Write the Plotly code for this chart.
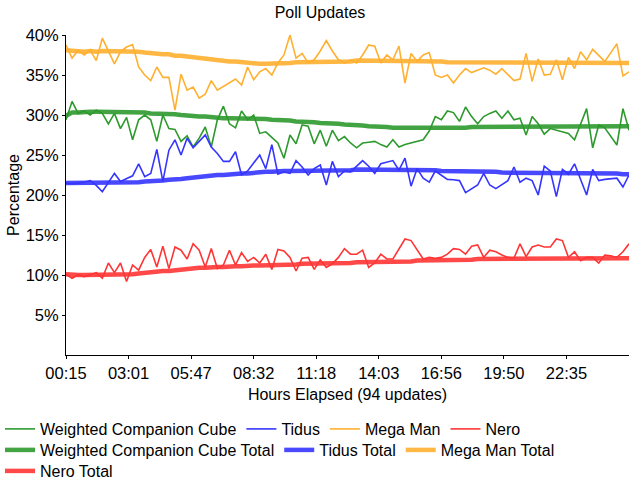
import plotly.graph_objects as go

FONT = "Liberation Sans, Arial, sans-serif"

tick_labels = ["00:15", "03:01", "05:47", "08:32", "11:18", "14:03", "16:56", "19:50", "22:35"]
n_updates = 94

cube = [29.4, 31.7, 30.2, 30.5, 30.0, 30.6, 30.2, 28.9, 30.2, 28.3,
        29.7, 26.9, 29.4, 30.0, 29.4, 26.7, 30.0, 28.3, 28.2, 26.7,
        27.4, 26.0, 27.1, 28.5, 26.0, 29.4, 31.1, 28.9, 28.4, 30.5,
        29.4, 30.0, 27.7, 27.9, 27.2, 26.5, 24.6, 27.5, 26.4, 28.75,
        28.6, 26.4, 28.1, 26.1, 28.1, 26.8, 27.3, 26.5, 25.9, 26.5,
        26.6, 26.7, 26.3, 26.0, 26.9, 26.0, 26.3, 26.5, 26.7, 26.9,
        28.0, 29.8, 29.4, 30.5, 30.3, 29.2, 31.0, 29.8, 28.9, 29.8,
        30.2, 30.5, 29.6, 30.5, 29.4, 29.6, 27.5, 29.8, 28.9, 27.6,
        28.3, 28.1, 27.9, 27.7, 26.9, 28.8, 30.8, 25.9, 28.75, 28.4,
        27.3, 26.25, 30.8, 28.1]
tidus = [21.5, 21.4, 21.5, 21.6, 21.8, 21.2, 20.4, 21.5, 22.7, 21.7,
         22.0, 22.4, 23.9, 22.3, 22.7, 25.7, 21.7, 25.6, 26.9, 25.0,
         27.1, 25.9, 26.7, 27.5, 26.0, 25.2, 24.2, 24.2, 25.4, 22.5,
         23.0, 24.0, 25.0, 23.3, 26.3, 22.6, 22.9, 22.7, 24.3, 23.5,
         22.5, 23.3, 23.75, 21.25, 24.2, 22.3, 23.0, 22.9, 23.6, 24.3,
         23.6, 22.7, 23.9, 24.1, 24.3, 23.1, 24.6, 21.1, 23.3, 22.1,
         21.6, 23.0, 22.5, 21.95, 21.9, 21.8, 20.3, 20.8, 21.25, 22.7,
         21.25, 20.8, 21.25, 21.8, 23.5, 21.6, 22.1, 21.8, 20.0, 23.6,
         23.0, 19.8, 23.2, 22.6, 23.9, 21.9, 20.0, 23.2, 21.8, 21.95,
         22.0, 22.1, 21.0, 22.5]
megaman = [38.75, 37.1, 38.1, 37.5, 38.1, 36.8, 39.6, 37.9, 36.4, 37.9,
           38.5, 38.8, 36.0, 35.0, 34.3, 36.0, 34.7, 34.7, 30.6, 35.1,
           33.1, 33.5, 32.1, 32.6, 34.3, 33.1, 33.6, 34.0, 34.5, 33.75,
           36.0, 34.4, 35.4, 35.8, 35.0, 36.5, 37.5, 40.0, 37.1, 37.7,
           36.5, 36.9, 38.0, 39.3, 38.0, 36.9, 36.5, 36.9, 36.5, 37.5,
           38.75, 38.6, 36.5, 37.5, 36.9, 38.6, 34.0, 37.7, 36.7, 37.5,
           37.8, 35.0, 34.7, 35.0, 34.0, 35.0, 35.8, 35.3, 35.6, 35.9,
           35.6, 35.1, 35.8, 35.0, 34.3, 34.5, 37.7, 34.2, 37.0, 35.0,
           35.1, 36.9, 34.4, 37.2, 35.8, 37.9, 36.9, 38.2, 37.4, 36.7,
           37.8, 38.9, 34.9, 35.4]
nero = [10.1, 9.6, 10.0, 9.8, 10.0, 10.3, 9.6, 11.5, 10.3, 11.5,
        9.2, 11.25, 10.6, 12.2, 13.2, 11.0, 13.6, 10.8, 13.5, 13.1,
        12.0, 13.9, 13.1, 11.0, 13.3, 10.8, 11.25, 13.1, 11.25, 12.8,
        11.7, 12.2, 11.5, 12.6, 10.7, 13.2, 13.0, 12.2, 10.5, 12.1,
        12.2, 10.7, 11.9, 10.95, 11.4, 12.2, 13.3, 12.6, 12.6, 13.1,
        10.95, 11.5, 12.6, 12.0, 12.0, 13.2, 14.5, 14.3, 13.2, 12.0,
        12.2, 12.1, 12.2, 12.6, 13.3, 13.2, 12.6, 13.6, 13.75, 12.2,
        13.1, 12.9, 12.5, 12.2, 12.1, 13.9, 12.3, 13.5, 13.75, 13.5,
        13.5, 14.5, 14.3, 12.2, 12.9, 11.8, 12.2, 12.2, 11.5, 12.5,
        12.4, 12.2, 12.9, 13.9]

cube_total = [29.9, 30.3, 30.3, 30.4, 30.4, 30.4, 30.4, 30.4, 30.4, 30.4,
              30.4, 30.3, 30.3, 30.3, 30.2, 30.2, 30.2, 30.1, 30.1, 30.0,
              29.9, 29.9, 29.8, 29.8, 29.7, 29.6, 29.6, 29.6, 29.6, 29.5,
              29.5, 29.5, 29.5, 29.5, 29.4, 29.4, 29.3, 29.3, 29.2, 29.2,
              29.1, 29.1, 29.0, 29.0, 28.9, 28.9, 28.8, 28.8, 28.7, 28.7,
              28.6, 28.6, 28.5, 28.5, 28.4, 28.4, 28.4, 28.3, 28.3, 28.3,
              28.3, 28.3, 28.3, 28.4, 28.4, 28.4, 28.4, 28.5, 28.5, 28.5,
              28.5, 28.5, 28.6, 28.6, 28.6, 28.6, 28.6, 28.6, 28.6, 28.6,
              28.6, 28.6, 28.6, 28.6, 28.6, 28.6, 28.6, 28.6, 28.6, 28.6,
              28.6, 28.6, 28.6, 28.6]
tidus_total = [21.5, 21.5, 21.5, 21.5, 21.5, 21.5, 21.5, 21.5, 21.5, 21.5,
               21.6, 21.6, 21.6, 21.7, 21.7, 21.8, 21.8, 21.9, 21.9, 22.0,
               22.1, 22.2, 22.2, 22.3, 22.4, 22.5, 22.5, 22.6, 22.6, 22.7,
               22.7, 22.8, 22.8, 22.9, 22.9, 23.0, 23.0, 23.0, 23.0, 23.1,
               23.1, 23.1, 23.1, 23.1, 23.1, 23.1, 23.1, 23.1, 23.2, 23.2,
               23.2, 23.2, 23.2, 23.2, 23.2, 23.2, 23.2, 23.1, 23.1, 23.1,
               23.1, 23.1, 23.0, 23.0, 23.0, 23.0, 22.9, 22.9, 22.9, 22.9,
               22.9, 22.9, 22.8, 22.8, 22.8, 22.8, 22.8, 22.8, 22.8, 22.8,
               22.8, 22.8, 22.8, 22.8, 22.8, 22.8, 22.8, 22.8, 22.8, 22.7,
               22.7, 22.7, 22.6, 22.6]
megaman_total = [38.1, 38.0, 38.0, 37.9, 38.0, 37.9, 38.0, 38.0, 37.9, 37.9,
                 38.0, 38.0, 37.9, 37.8, 37.7, 37.7, 37.6, 37.6, 37.4, 37.4,
                 37.3, 37.2, 37.1, 37.0, 37.0, 36.9, 36.8, 36.7, 36.7, 36.6,
                 36.5, 36.5, 36.4, 36.4, 36.4, 36.4, 36.5, 36.5, 36.6, 36.6,
                 36.6, 36.6, 36.7, 36.7, 36.7, 36.7, 36.7, 36.7, 36.8, 36.8,
                 36.8, 36.8, 36.8, 36.8, 36.8, 36.7, 36.7, 36.7, 36.7, 36.7,
                 36.7, 36.7, 36.7, 36.6, 36.6, 36.6, 36.6, 36.6, 36.6, 36.6,
                 36.6, 36.6, 36.6, 36.5, 36.5, 36.5, 36.5, 36.5, 36.5, 36.5,
                 36.5, 36.5, 36.5, 36.5, 36.5, 36.5, 36.5, 36.5, 36.5, 36.5,
                 36.5, 36.5, 36.5, 36.5]
nero_total = [10.1, 10.0, 10.0, 10.0, 10.0, 10.0, 10.0, 10.1, 10.1, 10.1,
              10.1, 10.1, 10.2, 10.3, 10.3, 10.4, 10.5, 10.5, 10.6, 10.7,
              10.8, 10.8, 10.9, 10.9, 11.0, 11.0, 11.0, 11.1, 11.1, 11.1,
              11.2, 11.2, 11.2, 11.2, 11.3, 11.3, 11.3, 11.3, 11.3, 11.4,
              11.4, 11.4, 11.4, 11.4, 11.5, 11.5, 11.5, 11.5, 11.6, 11.6,
              11.6, 11.6, 11.6, 11.7, 11.7, 11.7, 11.7, 11.7, 11.8, 11.8,
              11.8, 11.8, 11.9, 11.9, 11.9, 11.9, 11.9, 11.9, 12.0, 12.0,
              12.0, 12.0, 12.0, 12.0, 12.0, 12.0, 12.0, 12.1, 12.1, 12.1,
              12.1, 12.1, 12.1, 12.1, 12.1, 12.1, 12.1, 12.1, 12.1, 12.1,
              12.1, 12.1, 12.1, 12.1]

x = list(range(n_updates))
tick_vals = [k * (n_updates - 1) / 9 for k in range(len(tick_labels))]

colors = {"cube": "#2e9a2e", "tidus": "#3535ff", "megaman": "#ffb030", "nero": "#ff3535"}

fig = go.Figure()

# (name, values, colour, legend row)
totals = [("Weighted Companion Cube Total", cube_total, colors["cube"], "legend2"),
          ("Tidus Total", tidus_total, colors["tidus"], "legend2"),
          ("Mega Man Total", megaman_total, colors["megaman"], "legend2"),
          ("Nero Total", nero_total, colors["nero"], "legend3")]
singles = [("Weighted Companion Cube", cube, colors["cube"], "legend"),
           ("Tidus", tidus, colors["tidus"], "legend"),
           ("Mega Man", megaman, colors["megaman"], "legend"),
           ("Nero", nero, colors["nero"], "legend")]

for i, (name, ys, c, lg) in enumerate(totals):
    fig.add_trace(go.Scatter(x=x, y=ys, name=name, mode="lines",
                             line=dict(color=c, width=4.5), opacity=0.9,
                             legend=lg, legendrank=100 + i))
for i, (name, ys, c, lg) in enumerate(singles):
    fig.add_trace(go.Scatter(x=x, y=ys, name=name, mode="lines",
                             line=dict(color=c, width=1.6),
                             legend=lg, legendrank=10 + i))

leg_common = dict(orientation="h", xref="container", yref="container",
                  x=-0.012, xanchor="left", yanchor="middle",
                  font=dict(family=FONT, size=16), itemwidth=30,
                  bgcolor="rgba(0,0,0,0)", borderwidth=0, tracegroupgap=0)

fig.update_layout(
    width=640, height=480,
    margin=dict(l=66, r=11, t=35, b=125, autoexpand=False),
    paper_bgcolor="white", plot_bgcolor="white",
    font=dict(family=FONT, size=16, color="black"),
    title=dict(text="Poll Updates", x=0.5, xanchor="center", y=1 - 12 / 480, yanchor="middle",
               font=dict(family=FONT, size=16)),
    showlegend=True,
    legend=dict(leg_common, y=1 - 429 / 480),
    legend2=dict(leg_common, y=1 - 450 / 480),
    legend3=dict(leg_common, y=1 - 471 / 480),
    xaxis=dict(range=[0, n_updates - 1], tickvals=tick_vals, ticktext=tick_labels,
               showgrid=False, zeroline=False, showline=True, linecolor="black",
               linewidth=1, ticks="outside", ticklen=3, tickcolor="black",
               automargin=False,
               title=dict(text="Hours Elapsed (94 updates)", standoff=8,
                          font=dict(family=FONT, size=16)),
               tickfont=dict(family=FONT, size=16.5)),
    yaxis=dict(range=[0, 40], tickvals=[5, 10, 15, 20, 25, 30, 35, 40],
               ticktext=["5%", "10%", "15%", "20%", "25%", "30%", "35%", "40%"],
               showgrid=False, zeroline=False, showline=True, linecolor="black",
               linewidth=1, ticks="outside", ticklen=3, tickcolor="black",
               automargin=False,
               title=dict(text="Percentage", standoff=2,
                          font=dict(family=FONT, size=16)),
               tickfont=dict(family=FONT, size=16.5)),
)

fig.write_html("out.html")
